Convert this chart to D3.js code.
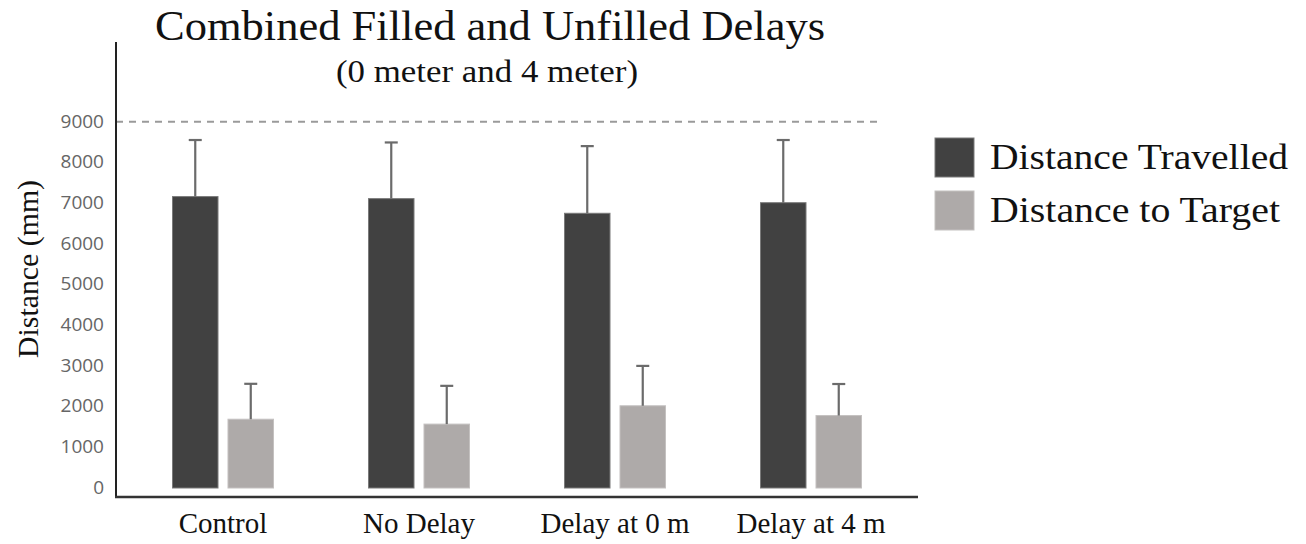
<!DOCTYPE html>
<html>
<head>
<meta charset="utf-8">
<script src="https://cdn.jsdelivr.net/npm/d3@7"></script>
<style>
  body { margin: 0; background: #fff; }
  svg { display: block; }
</style>
</head>
<body>
<script>
// data
let categories = ["Control", "No Delay", "Delay at 0 m", "Delay at 4 m"];
let seriesNames = ["Distance Travelled", "Distance to Target"];
let travelled = [7160, 7110, 6750, 7010];
let travelledErr = [1390, 1380, 1650, 1540];
let toTarget = [1690, 1570, 2020, 1780];
let toTargetErr = [870, 940, 980, 775];
let yTicks = [0, 1000, 2000, 3000, 4000, 5000, 6000, 7000, 8000, 9000];

let width = 1306, height = 544;
let svg = d3.select("body").append("svg")
  .attr("width", width)
  .attr("height", height);

let serif = "'Liberation Serif', 'Times New Roman', serif";
let colorScale = d3.scaleOrdinal()
  .domain(seriesNames)
  .range(["#414141", "#aeaaa9"]);

// scales
let xScale = d3.scaleBand()
  .domain(categories)
  .range([125, 909])
  .padding(0);
let x1 = d3.scaleBand()
  .domain(seriesNames)
  .range([-50.5, 50.5])
  .paddingInner(0.18);
let yScale = d3.scaleLinear()
  .domain([0, 9000])
  .range([488, 121.7]);

// table for the bars
let rows = [];
categories.forEach((c, i) => {
  rows.push({ cat: c, key: seriesNames[0], value: travelled[i], err: travelledErr[i] });
  rows.push({ cat: c, key: seriesNames[1], value: toTarget[i], err: toTargetErr[i] });
});

// dashed line at the top tick
svg.append("line")
  .attr("x1", 116).attr("x2", 878)
  .attr("y1", yScale(9000)).attr("y2", yScale(9000))
  .attr("stroke", "#9a9a9a")
  .attr("stroke-width", 2)
  .attr("stroke-dasharray", "7,6");

// bars
let cx = d => xScale(d.cat) + xScale.bandwidth() / 2;
svg.append("g").selectAll("rect")
  .data(rows)
  .join("rect")
  .attr("x", d => cx(d) + x1(d.key))
  .attr("width", x1.bandwidth())
  .attr("y", d => yScale(d.value))
  .attr("height", d => yScale(0) - yScale(d.value))
  .attr("fill", d => colorScale(d.key))
  .attr("stroke", d => d.key === seriesNames[0] ? "#7a7a7a" : "#c4c1c0")
  .attr("stroke-width", 1);

// error bars
let errG = svg.append("g")
  .attr("stroke", "#6b6b6b")
  .attr("stroke-width", 2.2);
let barMid = d => cx(d) + x1(d.key) + x1.bandwidth() / 2;
errG.selectAll("line.stem")
  .data(rows)
  .join("line")
  .classed("stem", true)
  .attr("x1", barMid).attr("x2", barMid)
  .attr("y1", d => yScale(d.value))
  .attr("y2", d => yScale(d.value + d.err));
errG.selectAll("line.cap")
  .data(rows)
  .join("line")
  .classed("cap", true)
  .attr("x1", d => barMid(d) - 6.5)
  .attr("x2", d => barMid(d) + 6.5)
  .attr("y1", d => yScale(d.value + d.err))
  .attr("y2", d => yScale(d.value + d.err));

// y axis: line plus tick labels
let yAxis = d3.axisLeft(yScale)
  .tickValues(yTicks)
  .tickSize(0)
  .tickPadding(12)
  .tickFormat(d => "" + d);
let yAxisG = svg.append("g")
  .attr("transform", "translate(116, 0)")
  .call(yAxis);
yAxisG.select(".domain").remove();
yAxisG.selectAll("text")
  .attr("dy", "0.28em")
  .attr("fill", "#666")
  .style("font-family", "'Open Sans', sans-serif")
  .style("font-size", "19px");

svg.append("line")
  .attr("x1", 116).attr("x2", 116)
  .attr("y1", 42).attr("y2", 498)
  .attr("stroke", "#222").attr("stroke-width", 2);

// x axis
let xAxis = d3.axisBottom(xScale).tickSize(0).tickPadding(0);
let xAxisG = svg.append("g")
  .attr("transform", "translate(0, 497)")
  .call(xAxis);
xAxisG.select(".domain").remove();
xAxisG.selectAll("text")
  .attr("dy", null)
  .attr("y", 36)
  .attr("fill", "#111")
  .style("font-family", serif)
  .style("font-size", "29px");
svg.append("line")
  .attr("x1", 115).attr("x2", 918)
  .attr("y1", 497).attr("y2", 497)
  .attr("stroke", "#333").attr("stroke-width", 2.5);

// title
svg.append("text")
  .attr("x", 490).attr("y", 40)
  .attr("text-anchor", "middle")
  .attr("textLength", 670)
  .attr("lengthAdjust", "spacingAndGlyphs")
  .style("font-family", serif)
  .style("font-size", "43px")
  .attr("fill", "#111")
  .text("Combined Filled and Unfilled Delays");
svg.append("text")
  .attr("x", 487).attr("y", 82)
  .attr("text-anchor", "middle")
  .attr("textLength", 302)
  .attr("lengthAdjust", "spacingAndGlyphs")
  .style("font-family", serif)
  .style("font-size", "31px")
  .attr("fill", "#111")
  .text("(0 meter and 4 meter)");

// y label
svg.append("g")
  .attr("transform", "translate(38, 269)")
  .append("text")
  .attr("transform", "rotate(-90)")
  .attr("text-anchor", "middle")
  .attr("textLength", 178)
  .attr("lengthAdjust", "spacingAndGlyphs")
  .style("font-family", serif)
  .style("font-size", "29px")
  .attr("fill", "#111")
  .text("Distance (mm)");

// legend
let legend = svg.append("g")
  .attr("transform", "translate(935, 138)")
  .selectAll("g")
  .data(seriesNames)
  .join("g")
  .attr("transform", (d, i) => `translate(0, ${i * 53})`);
legend.append("rect")
  .attr("width", 39).attr("height", 39)
  .attr("fill", d => colorScale(d))
  .attr("stroke", d => d === seriesNames[0] ? "#7a7a7a" : "#c4c1c0");
legend.append("text")
  .attr("x", 55).attr("y", 31)
  .attr("textLength", (d, i) => i === 0 ? 298 : 290)
  .attr("lengthAdjust", "spacingAndGlyphs")
  .style("font-family", serif)
  .style("font-size", "36px")
  .attr("fill", "#111")
  .text(d => d);
</script>
</body>
</html>
